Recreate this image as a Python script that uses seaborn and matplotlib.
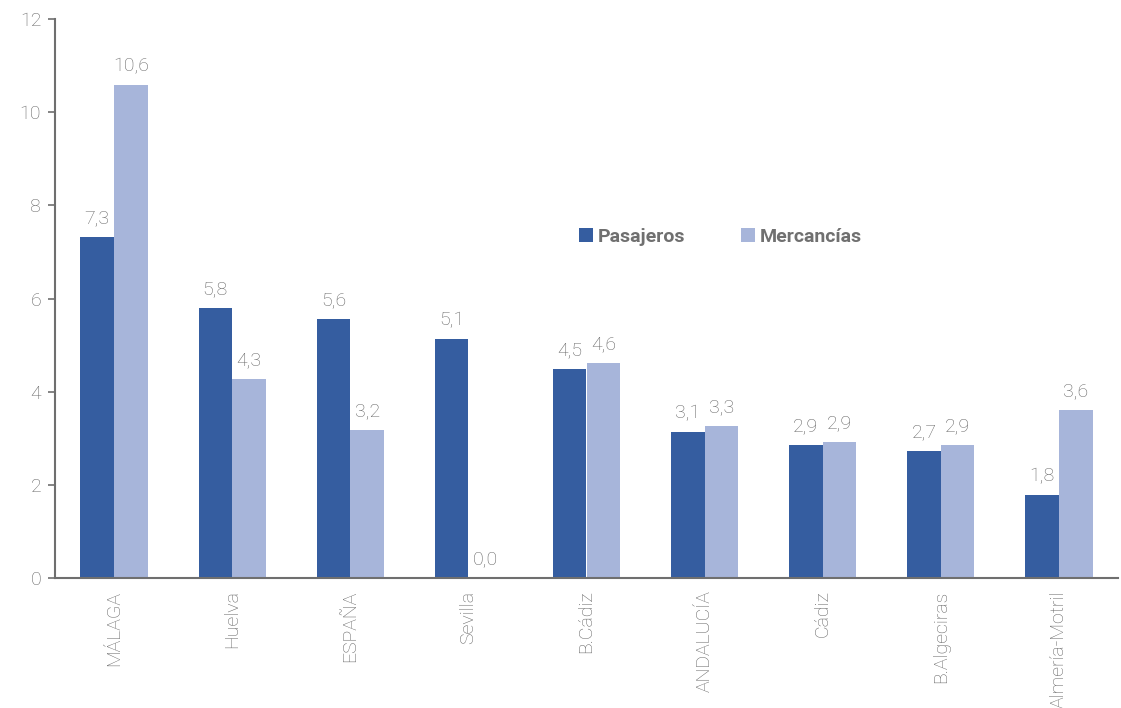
import matplotlib
matplotlib.use("Agg")
import matplotlib.pyplot as plt
import pandas as pd
import seaborn as sns

# Values (one decimal shown on labels)
puertos = ["MÁLAGA", "Huelva", "ESPAÑA", "Sevilla", "B.Cádiz",
           "ANDALUCÍA", "Cádiz", "B.Algeciras", "Almería-Motril"]
pasajeros = [7.33, 5.80, 5.56, 5.13, 4.49, 3.14, 2.86, 2.72, 1.79]
mercancias = [10.58, 4.28, 3.18, 0.0, 4.62, 3.27, 2.93, 2.85, 3.61]
series = ["Pasajeros", "Mercancías"]
colores = ["#355da0", "#a7b5da"]

sns.set_theme(style="white")
plt.rcParams["font.family"] = ["Roboto", "DejaVu Sans"]
GRIS = "#666666"
FS = 14

df = pd.DataFrame({
    "puerto": puertos * 2,
    "serie": [series[0]] * len(puertos) + [series[1]] * len(puertos),
    "valor": pasajeros + mercancias,
})

fig = plt.figure(figsize=(11.21, 7.08), dpi=100)
ax = fig.add_axes([55 / 1121, 130 / 708, 1063 / 1121, 559 / 708])

sns.barplot(data=df, x="puerto", y="valor", hue="serie", order=puertos,
            hue_order=series, palette=colores, width=0.57, gap=0,
            saturation=1, linewidth=0, ax=ax, legend=True)

for cont in ax.containers:
    ax.bar_label(cont, labels=[f"{b.get_height():.1f}".replace(".", ",") for b in cont],
                 padding=7, fontsize=FS, color=GRIS, fontweight="light")

ax.set_ylim(0, 12)
ax.set_yticks(range(0, 13, 2))
ax.set_xlim(-0.5, len(puertos) - 0.5)
ax.set_xlabel("")
ax.set_ylabel("")
ax.tick_params(axis="y", left=True, length=5, width=1.2, color="#6f6f6f",
               labelsize=FS, labelcolor=GRIS, pad=5)
ax.tick_params(axis="x", bottom=False, labelsize=FS, labelcolor=GRIS,
               rotation=90, pad=3)
for lab in ax.get_xticklabels() + ax.get_yticklabels():
    lab.set_fontweight("light")
for s in ["top", "right"]:
    ax.spines[s].set_visible(False)
for s in ["left", "bottom"]:
    ax.spines[s].set_color("#6f6f6f")
    ax.spines[s].set_linewidth(1.5)

leg = ax.legend(loc="center", bbox_to_anchor=(0.626, 0.61), ncol=2, frameon=False,
                handlelength=0.7, handleheight=0.7, handletextpad=0.25,
                columnspacing=2.9, prop={"size": FS, "weight": "bold"})
for t in leg.get_texts():
    t.set_color("#707070")

fig.savefig("out.png", dpi=100)
